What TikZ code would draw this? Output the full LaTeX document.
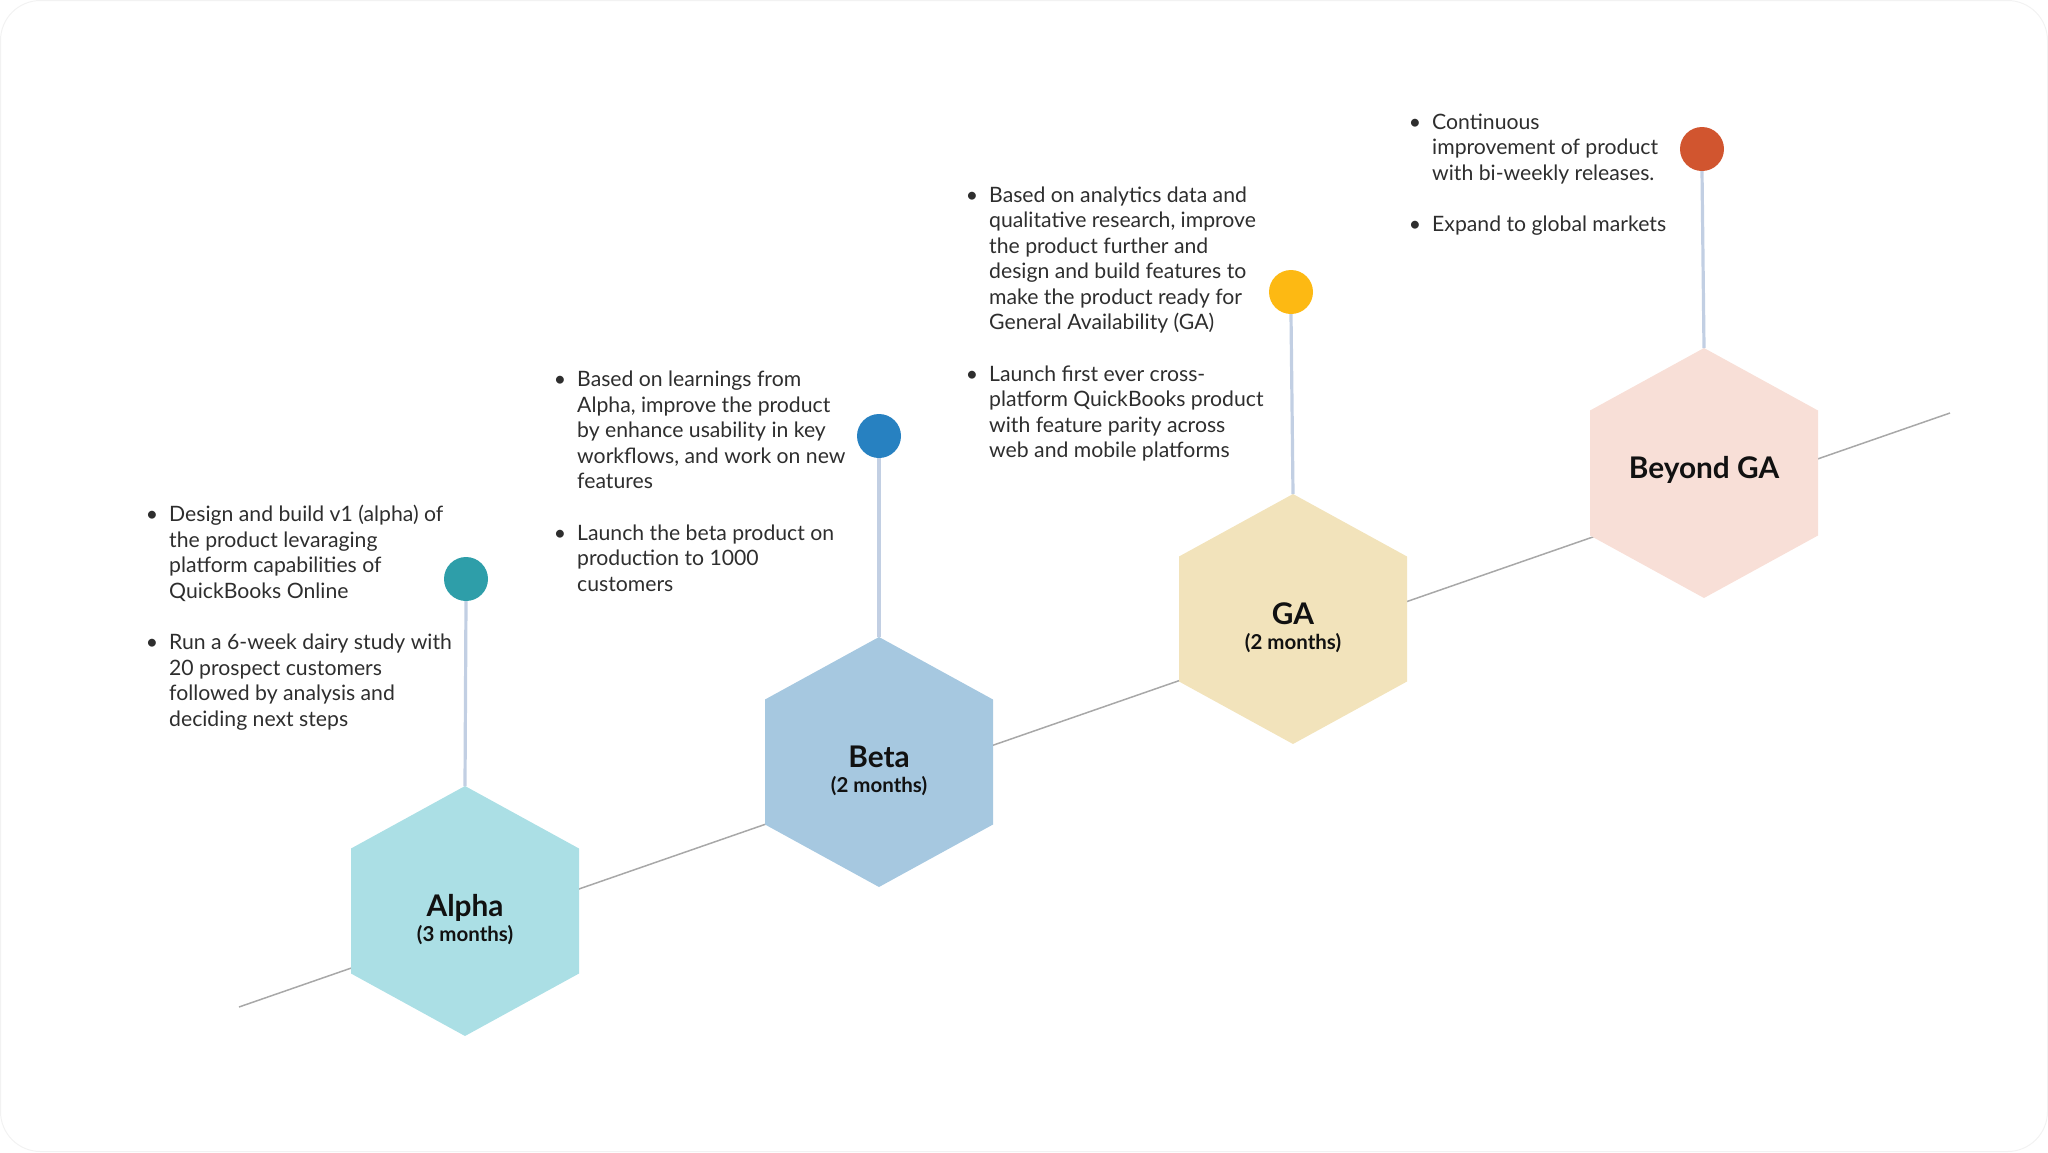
\documentclass[tikz,border=0pt]{standalone}
\usepackage{fontspec}
\setmainfont{Lato}
\definecolor{framecol}{HTML}{F2F2F2}
\definecolor{tlgray}{HTML}{A8A8A8}
\definecolor{pincol}{HTML}{C2CFE3}
\definecolor{txtcol}{HTML}{2E2E2E}
\definecolor{ttlcol}{HTML}{111111}
\definecolor{hexA}{HTML}{ABDFE5}
\definecolor{hexB}{HTML}{A6C8E0}
\definecolor{hexG}{HTML}{F2E3BB}
\definecolor{hexY}{HTML}{F8DFD7}
\definecolor{dotA}{HTML}{2E9EA9}
\definecolor{dotB}{HTML}{2781C1}
\definecolor{dotG}{HTML}{FDB913}
\definecolor{dotY}{HTML}{D1552F}
\newcommand{\bul}{\llap{\textbullet\hspace{11pt}}}
\newcommand{\hexshape}[3]{\fill[#3] (#1,#2) ++(0,-125) -- ++(114,62.5) -- ++(0,125) -- ++(-114,62.5) -- ++(-114,-62.5) -- ++(0,-125) -- cycle;}
\begin{document}
\begin{tikzpicture}[x=1pt,y=-1pt,
  tl/.style={draw=tlgray, line width=1.5pt},
  pinline/.style={draw=pincol, line width=3.2pt},
  pindot/.style={circle, inner sep=0pt, minimum size=44pt},
  bodytxt/.style={anchor=base west, inner sep=0pt, text=txtcol, font=\fontsize{21.2}{25.5}\selectfont},
  ttl/.style={anchor=base, inner sep=0pt, text=ttlcol, font=\fontsize{29.8}{32}\selectfont\bfseries},
  subttl/.style={anchor=base, inner sep=0pt, text=ttlcol, font=\fontsize{20.5}{23}\selectfont\bfseries},
]
\useasboundingbox (0,0) rectangle (2048,1152);
\draw[draw=framecol, line width=1pt, rounded corners=40pt] (0.5,0.5) rectangle (2047.5,1151.5);

% timeline
\coordinate (tlS) at (239,1007);
\coordinate (tlE) at (1950,413);
\draw[tl] (tlS) -- (tlE);

% hexagons
\hexshape{465}{911}{hexA}
\hexshape{879}{762}{hexB}
\hexshape{1293}{619}{hexG}
\hexshape{1704}{473}{hexY}

% hexagon tops
\coordinate (tA) at (465,786);
\coordinate (tB) at (879,637);
\coordinate (tG) at (1293,494);
\coordinate (tY) at (1704,348);

% pins
\node[pindot, fill=dotA] (pA) at (466,579) {};
\node[pindot, fill=dotB] (pB) at (879,436) {};
\node[pindot, fill=dotG] (pG) at (1291,292) {};
\node[pindot, fill=dotY] (pY) at (1702,149) {};
\draw[pinline] (tA) -- (pA.south);
\draw[pinline] (tB) -- (pB.south);
\draw[pinline] (tG) -- (pG.south);
\draw[pinline] (tY) -- (pY.south);

% labels
\node[ttl] (lA) at (465,916) {Alpha};
\node[subttl] (sA) at (465,941) {(3 months)};
\node[ttl] (lB) at (879,767) {Beta};
\node[subttl] (sB) at (879,792) {(2 months)};
\node[ttl] (lG) at (1293,624) {GA};
\node[subttl] (sG) at (1293,649) {(2 months)};
\node[ttl] (lY) at (1704,478) {Beyond GA};

% text blocks
\node[bodytxt] (xA) at (169,521.5) {\begin{tabular}[t]{@{}l@{}}
\bul Design and build v1 (alpha) of\\
the product levaraging\\
platform capabilities of\\
QuickBooks Online\\[26pt]
\bul Run a 6-week dairy study with\\
20 prospect customers\\
followed by analysis and\\
deciding next steps
\end{tabular}};

\node[bodytxt] (xB) at (577,386.5) {\begin{tabular}[t]{@{}l@{}}
\bul Based on learnings from\\
Alpha, improve the product\\
by enhance usability in key\\
workflows, and work on new\\
features\\[26pt]
\bul Launch the beta product on\\
production to 1000\\
customers
\end{tabular}};

\node[bodytxt] (xG) at (989,202) {\begin{tabular}[t]{@{}l@{}}
\bul Based on analytics data and\\
qualitative research, improve\\
the product further and\\
design and build features to\\
make the product ready for\\
General Availability (GA)\\[26pt]
\bul Launch first ever cross-\\
platform QuickBooks product\\
with feature parity across\\
web and mobile platforms
\end{tabular}};

\node[bodytxt] (xY) at (1432,129) {\begin{tabular}[t]{@{}l@{}}
\bul Continuous\\
improvement of product\\
with bi-weekly releases.\\[26pt]
\bul Expand to global markets
\end{tabular}};
\end{tikzpicture}
\end{document}
